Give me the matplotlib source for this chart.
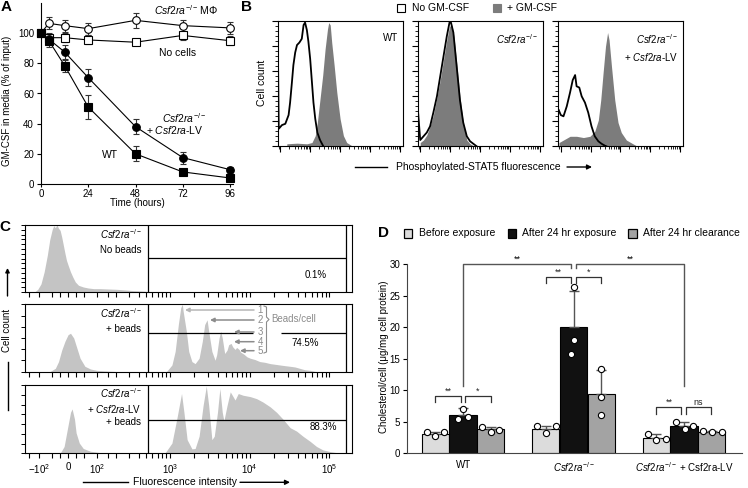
import numpy as np
import matplotlib
matplotlib.use('Agg')
import matplotlib.pyplot as plt
from matplotlib.patches import Rectangle, FancyArrowPatch
from matplotlib.lines import Line2D
from matplotlib.ticker import FixedLocator, FixedFormatter, NullFormatter, LogLocator, MultipleLocator

plt.rcParams['font.family'] = ['Liberation Sans', 'DejaVu Sans']
plt.rcParams['mathtext.fontset'] = 'custom'
plt.rcParams['mathtext.rm'] = 'Liberation Sans'
plt.rcParams['mathtext.it'] = 'Liberation Sans:italic'
plt.rcParams['mathtext.bf'] = 'Liberation Sans:bold'
plt.rcParams['font.size'] = 7
plt.rcParams['axes.linewidth'] = 0.8

# ---------------- Panel A data ----------------
a_time = [0, 4, 12, 24, 48, 72, 96]
a_mphi = [100, 106.5, 105, 103, 108.5, 105, 103.5]
a_mphi_err = [0, 4, 4, 4, 5, 4, 4]
a_nocells = [100, 97, 97, 95.5, 94, 98.5, 95]
a_nocells_err = [0, 3, 3, 3, 1.5, 3, 3]
a_lv = [100, 96, 87.5, 70.5, 38, 17.5, 9.5]
a_lv_err = [0, 3, 4.5, 5.5, 5, 4, 1.5]
a_wt = [100, 95, 78.5, 51, 20, 8, 4]
a_wt_err = [0, 4, 4, 8, 5, 1, 1]

# ---------------- Panel B data (log10 fluorescence, relative count) ----------------
b_black_d = [
    [-0.07, -0.05, 0.06, 0.17, 0.28, 0.33, 0.39, 0.44, 0.50, 0.56, 0.64, 0.72, 0.78, 0.83, 0.89, 0.94, 1.00, 1.06, 1.11, 1.17, 1.24, 1.33, 1.44],
    [-0.07, 0.00, 0.11, 0.22, 0.33, 0.44, 0.56, 0.67, 0.78, 0.89, 0.98, 1.03, 1.11, 1.22, 1.33, 1.44, 1.56, 1.67, 1.78, 1.89],
    [-0.07, 0.00, 0.09, 0.20, 0.31, 0.40, 0.48, 0.53, 0.62, 0.70, 0.81, 0.92, 1.03, 1.14, 1.26, 1.37, 1.48, 1.53],
]
b_black_h = [
    [0.62, 0.14, 0.17, 0.18, 0.25, 0.35, 0.51, 0.65, 0.75, 0.81, 0.83, 0.86, 0.97, 0.99, 0.93, 0.84, 0.70, 0.51, 0.35, 0.22, 0.11, 0.05, 0.0],
    [0.27, 0.05, 0.08, 0.11, 0.16, 0.27, 0.40, 0.56, 0.72, 0.88, 0.99, 0.99, 0.91, 0.64, 0.37, 0.19, 0.08, 0.04, 0.02, 0.0],
    [0.29, 0.25, 0.24, 0.32, 0.43, 0.53, 0.57, 0.48, 0.47, 0.40, 0.35, 0.27, 0.16, 0.08, 0.04, 0.02, 0.005, 0.0],
]
b_gray_d = [
    [0.22, 0.56, 0.89, 1.06, 1.17, 1.24, 1.33, 1.42, 1.50, 1.58, 1.62, 1.67, 1.72, 1.80, 1.89, 2.00, 2.11, 2.22, 2.39],
    [0.00, 0.11, 0.22, 0.33, 0.44, 0.56, 0.67, 0.78, 0.89, 0.98, 1.06, 1.13, 1.22, 1.33, 1.44, 1.56, 1.67, 1.78],
    [-0.06, 0.09, 0.31, 0.53, 0.76, 0.98, 1.14, 1.26, 1.34, 1.42, 1.50, 1.57, 1.62, 1.70, 1.81, 1.92, 2.03, 2.20, 2.42, 2.53],
]
b_gray_h = [
    [0.02, 0.025, 0.02, 0.03, 0.085, 0.19, 0.38, 0.57, 0.78, 0.94, 0.99, 0.97, 0.83, 0.65, 0.43, 0.22, 0.085, 0.03, 0.005],
    [0.03, 0.05, 0.09, 0.16, 0.25, 0.39, 0.53, 0.69, 0.85, 0.96, 0.97, 0.88, 0.67, 0.40, 0.19, 0.05, 0.02, 0.005],
    [0.03, 0.05, 0.08, 0.08, 0.07, 0.08, 0.12, 0.21, 0.37, 0.59, 0.80, 0.91, 0.85, 0.64, 0.37, 0.19, 0.11, 0.05, 0.02, 0.005],
]
b_titles = ['WT', r'$\it{Csf2ra}^{-/-}$', r'$\it{Csf2ra}^{-/-}$' + '\n' + r'+ $\it{Csf2ra}$-LV']

# ---------------- Panel C data (biexponential decades, relative count) ----------------
c_d = [
    [-0.42, -0.38, -0.34, -0.30, -0.26, -0.23, -0.20, -0.18, -0.16, -0.14, -0.12, -0.10, -0.08, -0.06, -0.04, -0.02, 0.00, 0.03, 0.06, 0.09, 0.13, 0.19, 0.25, 0.32, 0.40, 0.50, 0.61, 0.72, 0.82, 0.92, 0.98],
    [-0.23, -0.16, -0.12, -0.08, -0.04, 0.00, 0.03, 0.07, 0.11, 0.15, 0.21, 0.28, 0.36, 0.48, 0.65,
     1.23, 1.30, 1.34, 1.38, 1.41, 1.43, 1.44, 1.48, 1.51, 1.55, 1.59, 1.64, 1.68, 1.71, 1.74, 1.76, 1.80, 1.84, 1.86, 1.89, 1.91, 1.93, 1.96, 1.99, 2.01, 2.04, 2.06, 2.09, 2.11, 2.14, 2.16, 2.20, 2.24, 2.28, 2.34, 2.40, 2.46, 2.53, 2.59, 2.65, 2.71, 2.78, 2.84, 2.90, 2.96, 3.03, 3.09, 3.15],
    [-0.10, -0.05, -0.01, 0.03, 0.05, 0.08, 0.10, 0.14, 0.19, 0.28, 0.40, 0.53,
     1.21, 1.30, 1.36, 1.42, 1.45, 1.49, 1.55, 1.59, 1.64, 1.69, 1.73, 1.76, 1.80, 1.83, 1.87, 1.90, 1.93, 1.95, 1.99, 2.03, 2.09, 2.13, 2.19, 2.28, 2.36, 2.44, 2.53, 2.61, 2.69, 2.78, 2.86, 2.94, 3.03, 3.11, 3.19, 3.28, 3.36, 3.44],
]
c_h = [
    [0.0, 0.04, 0.12, 0.30, 0.55, 0.78, 0.93, 0.99, 0.96, 1.0, 0.95, 0.92, 0.82, 0.70, 0.58, 0.47, 0.40, 0.30, 0.22, 0.15, 0.10, 0.075, 0.06, 0.05, 0.05, 0.045, 0.04, 0.03, 0.02, 0.015, 0.01],
    [0.0, 0.05, 0.15, 0.32, 0.45, 0.55, 0.57, 0.50, 0.35, 0.20, 0.08, 0.04, 0.02, 0.01, 0.0,
     0.0, 0.10, 0.30, 0.70, 0.95, 1.0, 0.90, 0.60, 0.30, 0.15, 0.12, 0.20, 0.45, 0.70, 0.77, 0.60, 0.30, 0.17, 0.25, 0.50, 0.60, 0.50, 0.27, 0.32, 0.40, 0.42, 0.37, 0.33, 0.36, 0.33, 0.29, 0.26, 0.22, 0.20, 0.18, 0.15, 0.14, 0.12, 0.11, 0.10, 0.09, 0.08, 0.07, 0.05, 0.03, 0.02, 0.005, 0.0],
    [0.0, 0.10, 0.35, 0.60, 0.65, 0.50, 0.30, 0.15, 0.07, 0.03, 0.01, 0.0,
     0.0, 0.15, 0.50, 0.875, 0.60, 0.20, 0.065, 0.07, 0.25, 0.70, 0.985, 0.70, 0.20, 0.25, 0.60, 0.95, 0.60, 0.475, 0.70, 0.90, 0.78, 0.875, 0.85, 0.83, 0.80, 0.75, 0.68, 0.60, 0.50, 0.375, 0.325, 0.25, 0.175, 0.10, 0.05, 0.025, 0.01, 0.0],
]
c_labels = [r'$\it{Csf2ra}^{-/-}$' + '\nNo beads',
            r'$\it{Csf2ra}^{-/-}$' + '\n+ beads',
            r'$\it{Csf2ra}^{-/-}$' + '\n' + r'+ $\it{Csf2ra}$-LV' + '\n+ beads']
c_pct = ['0.1%', '74.5%', '88.3%']
c_major = [-100, 0, 100, 1e3, 1e4, 1e5]
c_major_labels = [r'$-10^{2}$', '0', r'$10^{2}$', r'$10^{3}$', r'$10^{4}$', r'$10^{5}$']
c_minor = [-150, -50, -25, 25, 50, 150, 200, 300, 400, 500, 600, 700, 800, 900,
           2000, 3000, 4000, 5000, 6000, 7000, 8000, 9000,
           20000, 30000, 40000, 50000, 60000, 70000, 80000, 90000]

# ---------------- Panel D data ----------------
d_groups = ['WT', r'$\it{Csf2ra}^{-/-}$', r'$\it{Csf2ra}^{-/-}$ + Csf2ra-LV']
d_series = ['Before exposure', 'After 24 hr exposure', 'After 24 hr clearance']
d_means = [[3.1, 3.9, 2.4], [6.1, 20.0, 4.4], [3.8, 9.45, 3.4]]
d_errs = [[0.3, 0.4, 0.6], [1.0, 5.7, 0.5], [0.4, 3.8, 0.2]]
d_points = [
    [[3.3, 2.7, 3.3], [4.3, 3.25, 4.3], [3.0, 2.1, 2.2]],
    [[5.4, 7.0, 5.8], [26.4, 18.0, 15.8], [5.0, 3.85, 4.3]],
    [[4.2, 3.4, 3.7], [13.3, 9.0, 6.1], [3.5, 3.3, 3.3]],
]
d_jitter = [
    [[-0.08, 0, 0.08], [-0.085, 0, 0.09], [-0.077, 0, 0.088]],
    [[-0.042, 0, 0.042], [0, 0, -0.02], [-0.072, 0.01, 0.084]],
    [[-0.082, 0, 0.077], [0, 0, 0], [-0.076, 0, 0.09]],
]

# ---------------- figure ----------------
W, H = 748, 488
fig = plt.figure(figsize=(W / 100, H / 100), dpi=100)


def pax(l, t, r, b):
    return fig.add_axes([l / W, 1 - b / H, (r - l) / W, (b - t) / H])


def ftext(x, y, s, **kw):
    kw.setdefault('va', 'center')
    return fig.text(x / W, 1 - y / H, s, **kw)


def fline(xs, ys, **kw):
    fig.add_artist(Line2D([x / W for x in xs], [1 - y / H for y in ys], transform=fig.transFigure, **kw))


def farrow(x0, y0, x1, y1, color='k', lw=1.0, ms=7):
    fig.add_artist(FancyArrowPatch((x0 / W, 1 - y0 / H), (x1 / W, 1 - y1 / H), transform=fig.transFigure,
                                   arrowstyle='-|>', mutation_scale=ms, color=color, lw=lw,
                                   shrinkA=0, shrinkB=0))


# panel letters
for s, x, y in [('A', 6, 7), ('B', 246, 7), ('C', 5, 227), ('D', 383, 233)]:
    ftext(x, y, s, fontsize=11, fontweight='bold', ha='center')

# ================= Panel A =================
axA = pax(41, 3, 233, 184)
axA.set_xlim(0, 97.5)
axA.set_ylim(0, 120)
series = [(a_mphi, a_mphi_err, 'o', 'white'), (a_nocells, a_nocells_err, 's', 'white'),
          (a_lv, a_lv_err, 'o', 'black'), (a_wt, a_wt_err, 's', 'black')]
for vals, errs, mk, fc in series:
    axA.errorbar(a_time[1:], vals[1:], yerr=errs[1:], fmt='none', ecolor='#333333', elinewidth=0.8,
                 capsize=2.5, capthick=0.8, zorder=2)
    axA.plot(a_time, vals, '-', color='k', lw=0.8, marker=mk, ms=5.5, mfc=fc, mec='k', mew=0.8,
             zorder=3, clip_on=False)
axA.spines['top'].set_visible(False)
axA.spines['right'].set_visible(False)
axA.set_xticks([0, 24, 48, 72, 96])
axA.set_yticks([0, 20, 40, 60, 80, 100])
axA.tick_params(axis='y', length=3, width=0.8, labelsize=7, pad=2)
axA.tick_params(axis='x', length=2.5, width=0.8, labelsize=7, pad=1)
ftext(7, 101, 'GM-CSF in media (% of input)', rotation=90, ha='center', fontsize=7)
ftext(137, 202.5, 'Time (hours)', ha='center', fontsize=7)
ftext(154, 10, r'$\it{Csf2ra}^{-/-}\,$' + 'MΦ', ha='left', fontsize=7.5)
ftext(159, 53, 'No cells', ha='left', fontsize=7.5)
ftext(161.5, 118, r'$\it{Csf2ra}^{-/-}$', ha='left', fontsize=7.5)
ftext(146.5, 130, r'+ $\it{Csf2ra}$-LV', ha='left', fontsize=7.5)
ftext(101.5, 155, 'WT', ha='left', fontsize=7.5)

# ================= Panel B =================
b_px = [(277.7, 403.3), (417.7, 543.0), (558.3, 683.3)]
for i, (l, r) in enumerate(b_px):
    ax = pax(l, 21.3, r, 146.3)
    ax.set_xscale('log')
    ax.set_xlim(10 ** -0.084, 10 ** 4.11)
    ax.set_ylim(0, 1.0)
    ax.fill_between(10 ** np.array(b_gray_d[i]), b_gray_h[i], color='#7c7c7c', lw=0, zorder=1)
    ax.plot(10 ** np.array(b_black_d[i]), b_black_h[i], color='k', lw=1.3, zorder=2)
    ax.yaxis.set_major_locator(MultipleLocator(0.2))
    ax.yaxis.set_minor_locator(MultipleLocator(0.04))
    ax.tick_params(axis='y', which='major', length=4, width=0.8, labelleft=False)
    ax.tick_params(axis='y', which='minor', length=2.5, width=0.6)
    ax.xaxis.set_major_locator(LogLocator(base=10, numticks=10))
    ax.xaxis.set_minor_locator(LogLocator(base=10, subs=np.arange(2, 10), numticks=10))
    ax.xaxis.set_minor_formatter(NullFormatter())
    ax.tick_params(axis='x', which='major', length=4, width=0.8, labelbottom=False)
    ax.tick_params(axis='x', which='minor', length=2.5, width=0.6)
    ax.text(0.96, 0.91, b_titles[i], transform=ax.transAxes, ha='right', va='top', fontsize=7,
            linespacing=1.5)
ftext(262, 83, 'Cell count', rotation=90, ha='center', fontsize=7.5)
fig.add_artist(Rectangle((397 / W, 1 - 12 / H), 8 / W, 8 / H, transform=fig.transFigure,
                         facecolor='white', edgecolor='k', lw=0.8))
ftext(412, 8, 'No GM-CSF', ha='left', fontsize=7.5)
fig.add_artist(Rectangle((492.5 / W, 1 - 12 / H), 8 / W, 8 / H, transform=fig.transFigure,
                         facecolor='#7c7c7c', edgecolor='#7c7c7c', lw=0.8))
ftext(507, 8, '+ GM-CSF', ha='left', fontsize=7.5)
fline([354.5, 386.5], [167, 167], color='k', lw=1.0)
ftext(478, 167, 'Phosphoylated-STAT5 fluorescence', ha='center', fontsize=7.5)
farrow(567, 167, 592, 167)

# ================= Panel C =================
C_W = 107.0


def c_fwd(x):
    return np.arcsinh(np.asarray(x, float) / C_W) / np.log(10)


def c_inv(y):
    return C_W * np.sinh(np.asarray(y, float) * np.log(10))


c_rows = [(225, 292), (304.3, 371.7), (385, 453.3)]
c_gate_y = [0.51, 0.57, 0.49]
c_pct_pos = [(326.5, 275), (319, 343.3), (337, 427.3)]
c_lab_y = [241, 320, 406.5]
c_lab_ls = [1.45, 1.45, 1.25]
c_ytick_n = [15, 7, 8]
xl = (-170, 1.9e5)
gate_lo, gate_hi = 530, 1.62e5
for i, (t, b) in enumerate(c_rows):
    ax = pax(25, t, 351.7, b)
    ax.set_xscale('function', functions=(c_fwd, c_inv))
    ax.set_xlim(*xl)
    ax.set_ylim(0, 1)
    xs = c_inv(c_d[i])
    ax.fill_between(xs, c_h[i], color='#c4c4c4', lw=0, zorder=1)
    ax.axvline(gate_lo, color='k', lw=0.9, zorder=3)
    ax.axvline(gate_hi, color='k', lw=0.9, zorder=3)
    if i == 1:
        ax.hlines(c_gate_y[i], gate_lo, c_inv(2.316), color='k', lw=0.9, zorder=3)
        ax.hlines(c_gate_y[i], c_inv(2.671), gate_hi, color='k', lw=0.9, zorder=3)
    else:
        ax.hlines(c_gate_y[i], gate_lo, gate_hi, color='k', lw=0.9, zorder=3)
    ax.xaxis.set_major_locator(FixedLocator(c_major))
    ax.xaxis.set_minor_locator(FixedLocator(c_minor))
    ax.xaxis.set_minor_formatter(NullFormatter())
    if i == 2:
        ax.xaxis.set_major_formatter(FixedFormatter(c_major_labels))
    else:
        ax.xaxis.set_major_formatter(NullFormatter())
    ax.tick_params(axis='x', which='both', length=3.5, width=0.8, labelsize=7, pad=3)
    ax.yaxis.set_major_locator(FixedLocator(np.linspace(0, 1, c_ytick_n[i])))
    ax.tick_params(axis='y', length=3, width=0.7, labelleft=False)
    ftext(141.5, c_lab_y[i], c_labels[i], ha='right', fontsize=7, linespacing=c_lab_ls[i])
    ftext(c_pct_pos[i][0], c_pct_pos[i][1], c_pct[i], ha='right', fontsize=7)

# beads/cell annotation
bead_y = [310, 320, 332, 341.7, 350.7]
bead_head = [185, 210, 234, 234, 240]
bead_col = ['#b5b5b5', '#8c8c8c', '#8c8c8c', '#8c8c8c', '#8c8c8c']
for k in range(5):
    farrow(254, bead_y[k], bead_head[k], bead_y[k], color=bead_col[k], lw=1.1, ms=6)
    ftext(260, bead_y[k], str(k + 1), ha='center', fontsize=7, color='#8c8c8c')
fline([264, 266.5, 266.5, 269, 266.5, 266.5, 264], [306, 307, 317, 319.5, 322, 352, 353], color='#8c8c8c', lw=0.8)
ftext(271.5, 319.5, 'Beads/cell', ha='left', fontsize=7, color='#8c8c8c')

# C axis labels
farrow(7.5, 296, 7.5, 268, lw=1.0, ms=6)
ftext(7.5, 330, 'Cell count', rotation=90, ha='center', fontsize=7)
fline([7.5, 7.5], [362, 410], color='k', lw=1.0)
fline([82.7, 128.3], [482.3, 482.3], color='k', lw=1.0)
ftext(185, 482.3, 'Fluorescence intensity', ha='center', fontsize=7.5)
farrow(240, 482.3, 290, 482.3)

# ================= Panel D =================
axD = pax(407, 264, 741.7, 453.3)
xg = np.arange(3)
d_colors = ['#dcdcdc', '#111111', '#a3a3a3']
bw = 0.245
for k in range(3):
    xs = xg + (k - 1) * 0.25
    axD.bar(xs, d_means[k], width=bw, color=d_colors[k], edgecolor='k', lw=0.8, zorder=2)
    axD.errorbar(xs, d_means[k], yerr=[np.zeros(3), d_errs[k]], fmt='none', ecolor='#555555',
                 elinewidth=1.0, capsize=3.5, capthick=1.0, zorder=3)
    for g in range(3):
        axD.scatter(xs[g] + np.array(d_jitter[k][g]), d_points[k][g], s=20, facecolor='white',
                    edgecolor='k', lw=0.8, zorder=4, clip_on=False)
axD.set_xlim(-0.507, 2.522)
axD.set_ylim(0, 30)
axD.set_yticks([0, 5, 10, 15, 20, 25, 30])
axD.set_xticks(xg)
axD.set_xticklabels(d_groups)
axD.tick_params(axis='x', length=0, labelsize=7, pad=5)
axD.tick_params(axis='y', length=3, width=0.8, labelsize=7, pad=2)
axD.spines['top'].set_visible(False)
axD.spines['right'].set_visible(False)
axD.spines['left'].set_color('#444444')
axD.spines['bottom'].set_color('#444444')


def bracket(x1, x2, y, leg, txt, col='#333333'):
    axD.plot([x1, x1, x2, x2], [y - leg, y, y, y - leg], color=col, lw=0.9, clip_on=False, zorder=5)
    axD.text((x1 + x2) / 2, y + 0.1, txt, ha='center', va='bottom', fontsize=6.5, color='#222222')


bracket(-0.25, -0.02, 9.1, 0.9, '**')
bracket(0.02, 0.25, 9.1, 0.9, '*')
bracket(0.75, 0.977, 27.9, 0.9, '**')
bracket(1.02, 1.25, 27.9, 0.9, '*')
bracket(1.75, 1.976, 7.3, 1.1, '**')
bracket(2.014, 2.24, 7.3, 1.1, 'ns')
axD.plot([0, 0, 0.98, 0.98], [10.6, 30, 30, 29.3], color='#555555', lw=1.0, clip_on=False, zorder=5)
axD.plot([1.02, 1.02, 2.0, 2.0], [29.3, 30, 30, 10.6], color='#555555', lw=1.0, clip_on=False, zorder=5)
axD.text(0.49, 30.1, '**', ha='center', va='bottom', fontsize=6.5)
axD.text(1.51, 30.1, '**', ha='center', va='bottom', fontsize=6.5)
ftext(384, 357, 'Cholesterol/cell (μg/mg cell protein)', rotation=90, ha='center', fontsize=7)

leg_x = [(403.5, 419), (507.5, 522.5), (628, 643)]
for k in range(3):
    fig.add_artist(Rectangle((leg_x[k][0] / W, 1 - 237.5 / H), 8.5 / W, 8.5 / H, transform=fig.transFigure,
                             facecolor=d_colors[k], edgecolor='k', lw=0.9))
    ftext(leg_x[k][1], 233.3, d_series[k], ha='left', fontsize=7.5)

fig.savefig('out.png', dpi=100)
